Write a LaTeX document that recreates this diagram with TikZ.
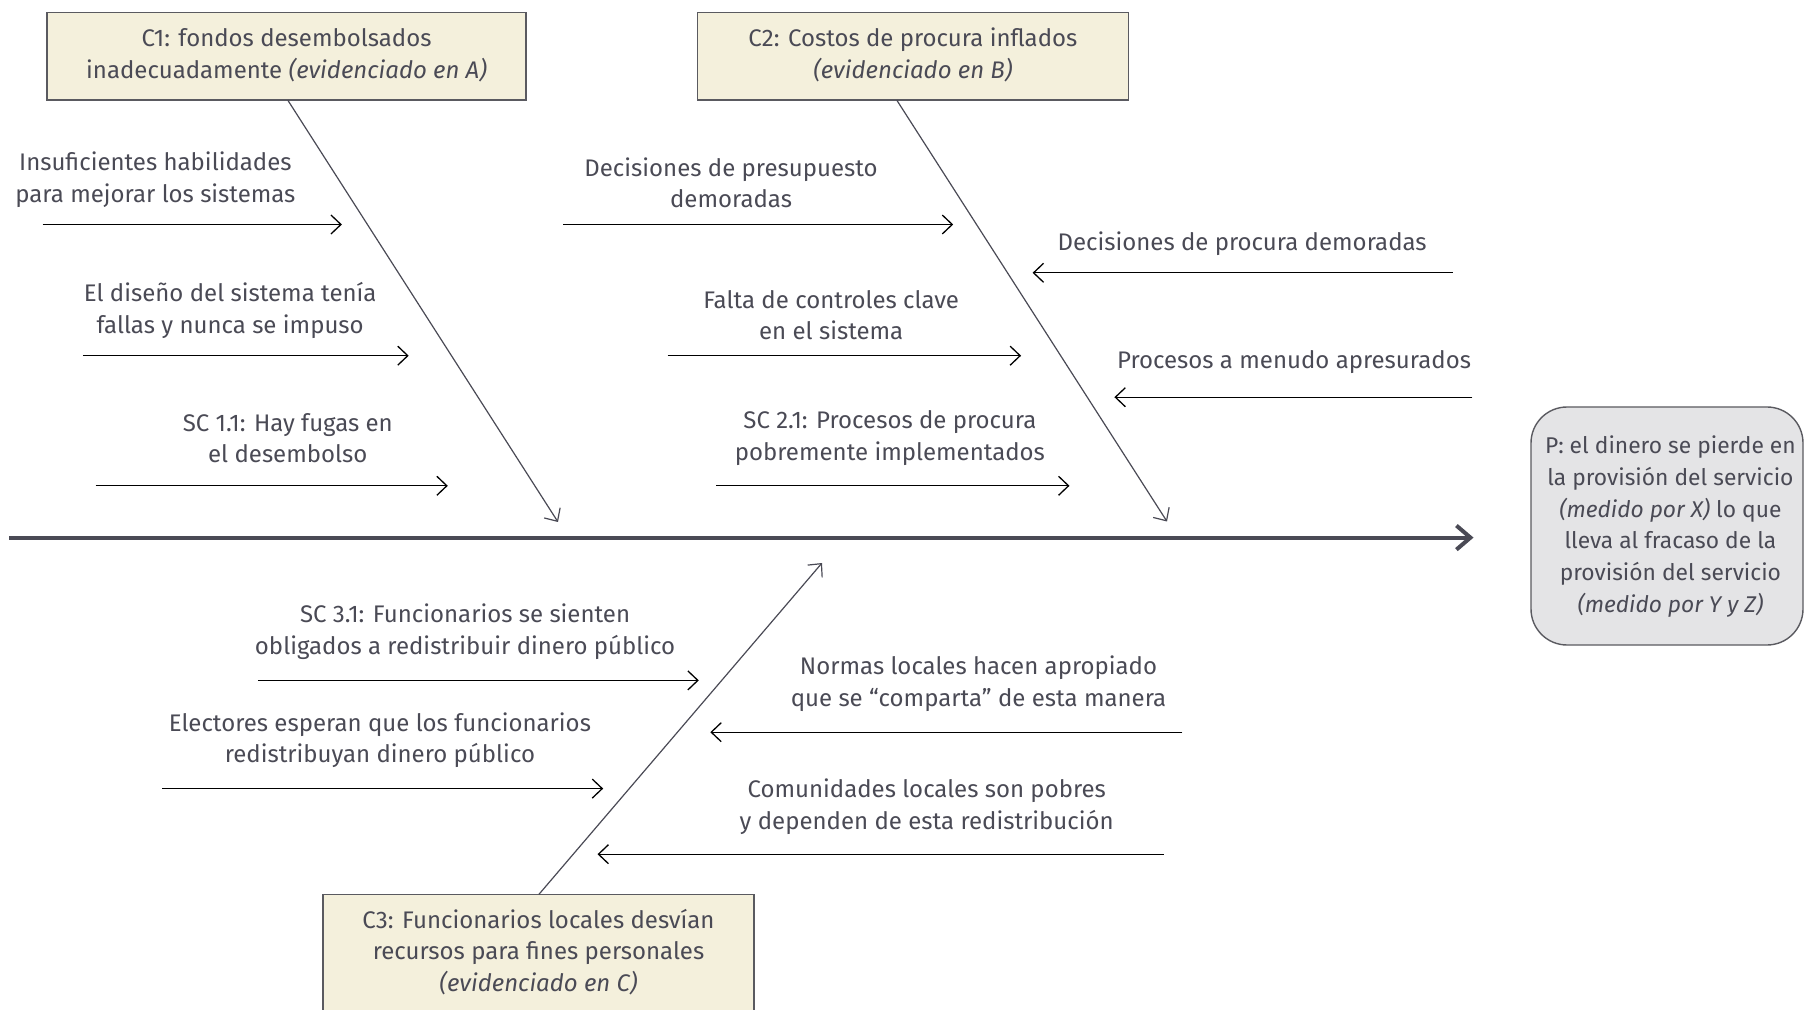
\documentclass[tikz,border=0pt]{standalone}
\usepackage{fontspec}
\setmainfont{Fira Sans}
\usetikzlibrary{arrows.meta}
\definecolor{txt}{HTML}{4A4A55}
\definecolor{bord}{HTML}{5A5A60}
\definecolor{beige}{HTML}{F4F0DC}
\definecolor{pgray}{HTML}{E4E4E6}
\begin{document}
\begin{tikzpicture}[x=0.5pt,y=-0.5pt,
  lbl/.style={text=txt,align=center,inner sep=0pt,yshift=-1pt,font=\fontsize{12}{15.8}\selectfont},
  cause/.style={draw=bord,fill=beige,line width=0.7pt,inner sep=0pt},
  sub/.style={black,line width=0.65pt,-{Straight Barb[length=5pt,width=9.5pt]}},
  bone/.style={txt,line width=0.6pt,-{Straight Barb[length=5pt,width=9.5pt]}},
  spine/.style={txt,line width=2pt,-{Straight Barb[length=7pt,width=12pt,line width=2pt]}}]
\useasboundingbox (0,0) rectangle (1805,1010);
% cause boxes
\path[cause] (47,12.7) rectangle (526,100.2);
\path[cause] (697.6,12.7) rectangle (1128.2,100.2);
\path[cause] (323,894.5) rectangle (754,1030);
\node[lbl] (c1) at (286.6,53) {C1: fondos desembolsados\\inadecuadamente \textit{(evidenciado en A)}};
\node[lbl] (c2) at (912.9,53) {C2: Costos de procura inflados\\\textit{(evidenciado en B)}};
\node[lbl] (c3) at (538.5,949.8) {C3: Funcionarios locales desvían\\recursos para fines personales\\\textit{(evidenciado en C)}};
% problem box
\path[draw=bord,fill=pgray,line width=0.7pt,rounded corners=18pt] (1531,407) rectangle (1803,645);
\node[lbl,font=\fontsize{11.4}{15.9}\selectfont] (p) at (1670.4,524.5) {P: el dinero se pierde en\\la provisión del servicio\\\textit{(medido por X)} lo que\\lleva al fracaso de la\\provisión del servicio\\\textit{(medido por Y y Z)}};
% coordinates
\coordinate (s0) at (9,537.6);
\coordinate (s1) at (1473.5,537.6);
\coordinate (b1a) at (287.8,100.2); \coordinate (b1b) at (558,522);
\coordinate (b2a) at (896.8,100.2); \coordinate (b2b) at (1167,521.5);
\coordinate (b3a) at (538.8,894.5); \coordinate (b3b) at (822,563);
\draw[spine] (s0) -- (s1);
\draw[bone] (b1a) -- (b1b);
\draw[bone] (b2a) -- (b2b);
\draw[bone] (b3a) -- (b3b);
% sub causes C1
\node[lbl] (t1) at (155.4,177.8) {Insuficientes habilidades\\para mejorar los sistemas};
\coordinate (a1s) at (42.6,224.5); \coordinate (a1e) at (341.9,224.5);
\draw[sub] (a1s) -- (a1e);
\node[lbl] (t2) at (230.2,308.5) {El diseño del sistema tenía\\fallas y nunca se impuso};
\coordinate (a2s) at (82.9,355.7); \coordinate (a2e) at (408.7,355.7);
\draw[sub] (a2s) -- (a2e);
\node[lbl] (t3) at (287.8,436.3) {SC 1.1: Hay fugas en\\el desembolso};
\coordinate (a3s) at (95.5,485.8); \coordinate (a3e) at (447.8,485.8);
\draw[sub] (a3s) -- (a3e);
% sub causes C2
\node[lbl] (t4) at (731,180.7) {Decisiones de presupuesto\\demoradas};
\coordinate (a4s) at (563,224.5); \coordinate (a4e) at (953.2,224.5);
\draw[sub] (a4s) -- (a4e);
\node[lbl] (t5) at (831.2,313.1) {Falta de controles clave\\en el sistema};
\coordinate (a5s) at (667.7,355.7); \coordinate (a5e) at (1021.1,355.7);
\draw[sub] (a5s) -- (a5e);
\node[lbl] (t6) at (889.9,436.3) {SC 2.1: Procesos de procura\\pobremente implementados};
\coordinate (a6s) at (716,485.8); \coordinate (a6e) at (1069.5,485.8);
\draw[sub] (a6s) -- (a6e);
\node[lbl] (t7) at (1242.1,241.8) {Decisiones de procura demoradas};
\coordinate (a7s) at (1452.8,272.8); \coordinate (a7e) at (1032.6,272.8);
\draw[sub] (a7s) -- (a7e);
\node[lbl] (t8) at (1294,360.3) {Procesos a menudo apresurados};
\coordinate (a8s) at (1472.4,397.2); \coordinate (a8e) at (1114.4,397.2);
\draw[sub] (a8s) -- (a8e);
% sub causes C3
\node[lbl] (t9) at (465.1,629.7) {SC 3.1: Funcionarios se sienten\\obligados a redistribuir dinero público};
\coordinate (a9s) at (257.9,680.4); \coordinate (a9e) at (698.8,680.4);
\draw[sub] (a9s) -- (a9e);
\node[lbl] (t10) at (379.9,738) {Electores esperan que los funcionarios\\redistribuyan dinero público};
\coordinate (a10s) at (162.3,788.6); \coordinate (a10e) at (603.2,788.6);
\draw[sub] (a10s) -- (a10e);
\node[lbl] (t11) at (978.5,681.5) {Normas locales hacen apropiado\\que se “comparta” de esta manera};
\coordinate (a11s) at (1182.3,732.2); \coordinate (a11e) at (710.3,732.2);
\draw[sub] (a11s) -- (a11e);
\node[lbl] (t12) at (926.7,804.7) {Comunidades locales son pobres\\y dependen de esta redistribución};
\coordinate (a12s) at (1163.9,854.2); \coordinate (a12e) at (597.5,854.2);
\draw[sub] (a12s) -- (a12e);
\end{tikzpicture}
\end{document}
